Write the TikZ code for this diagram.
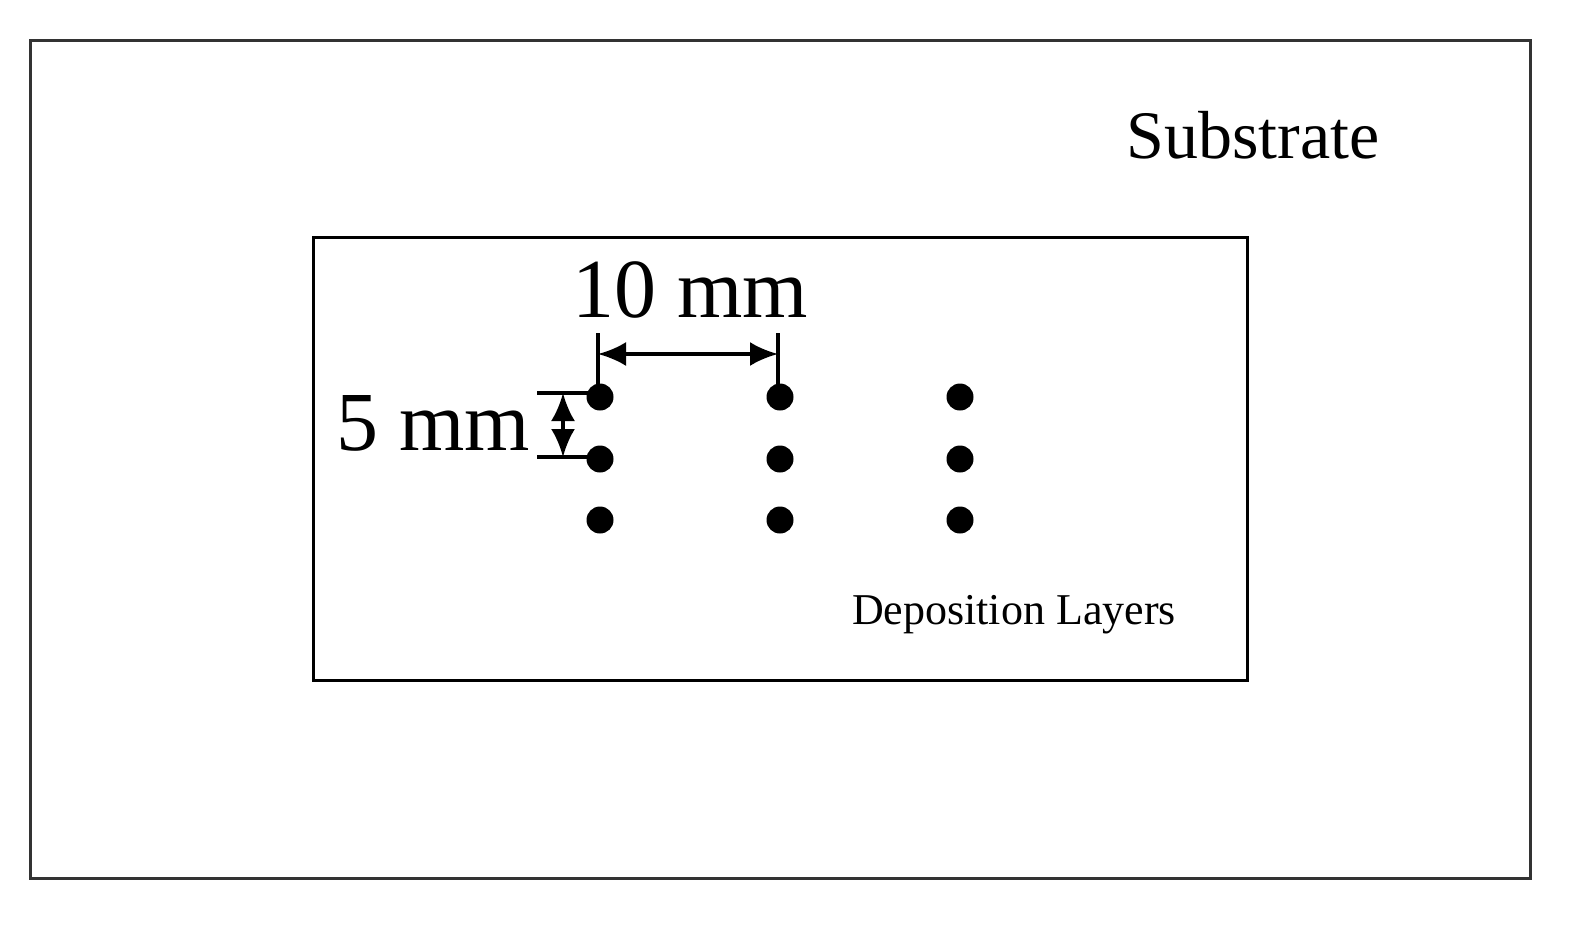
\documentclass[tikz,border=0pt]{standalone}
\usepackage{fontspec}
\setmainfont{Liberation Serif}
\usetikzlibrary{arrows.meta}
\begin{document}
\begin{tikzpicture}[x=1pt,y=-1pt,
  dot/.style={circle,fill=black,inner sep=0pt,minimum size=27pt},
  box/.style={draw=black!80,line width=3pt},
  dim/.style={line width=3.5pt,{Latex[length=28pt,width=24pt]}-{Latex[length=28pt,width=24pt]}},
  tick/.style={line width=3.5pt}]
\useasboundingbox (0,0) rectangle (1576,926);
\draw[box] (30,40) rectangle (1530,878);
\draw[line width=3pt] (313,237) rectangle (1247,680);
\node[font=\fontsize{68}{76}\selectfont] (sub) at (1253,135) {Substrate};
\node[font=\fontsize{44}{50}\selectfont] (dep) at (1014,615) {Deposition Layers};
\foreach \i/\x in {1/600,2/780,3/960}
  \foreach \j/\y in {1/397,2/459,3/520}
    \node[dot] (d\i\j) at (\x,\y) {};
\coordinate (t1a) at (598,333); \coordinate (t1b) at (598,395);
\coordinate (t2a) at (778,333); \coordinate (t2b) at (778,390);
\draw[tick] (t1a) -- (t1b); \draw[tick] (t2a) -- (t2b);
\coordinate (h1) at (598,354); \coordinate (h2) at (778,354);
\draw[dim] (h1) -- (h2);
\coordinate (v1a) at (537,393); \coordinate (v1b) at (598,393);
\coordinate (v2a) at (537,457); \coordinate (v2b) at (598,457);
\draw[tick] (v1a) -- (v1b); \draw[tick] (v2a) -- (v2b);
\coordinate (w1) at (563,393); \coordinate (w2) at (563,457);
\draw[dim] (w1) -- (w2);
\node[font=\fontsize{84}{94}\selectfont] (ten) at (690,290) {10 mm};
\node[font=\fontsize{84}{94}\selectfont] (five) at (433,423) {5 mm};
\end{tikzpicture}
\end{document}
